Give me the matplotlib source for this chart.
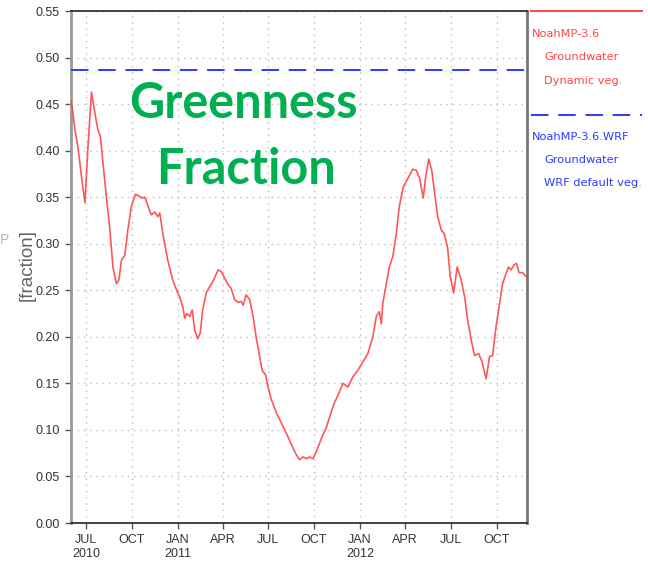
import matplotlib
matplotlib.use("Agg")
import matplotlib.pyplot as plt
import numpy as np
import pandas as pd

# Greenness fraction, NoahMP-3.6 groundwater run with dynamic vegetation
gvf_dates = [
    "2010-06-01", "2010-06-05", "2010-06-09", "2010-06-15", "2010-06-22", "2010-06-29",
    "2010-07-05", "2010-07-12", "2010-07-19", "2010-07-25", "2010-07-30", "2010-08-04",
    "2010-08-11", "2010-08-18", "2010-08-24", "2010-08-31", "2010-09-05", "2010-09-10",
    "2010-09-17", "2010-09-23", "2010-09-30", "2010-10-08", "2010-10-13", "2010-10-21",
    "2010-10-27", "2010-11-02", "2010-11-09", "2010-11-16", "2010-11-22", "2010-11-26",
    "2010-12-02", "2010-12-12", "2010-12-22", "2011-01-01", "2011-01-05", "2011-01-11",
    "2011-01-15", "2011-01-19", "2011-01-25", "2011-01-30", "2011-02-04", "2011-02-10",
    "2011-02-15", "2011-02-20", "2011-02-27", "2011-03-06", "2011-03-12", "2011-03-23",
    "2011-03-29", "2011-04-05", "2011-04-12", "2011-04-18", "2011-04-25", "2011-05-02",
    "2011-05-08", "2011-05-12", "2011-05-18", "2011-05-25", "2011-06-01", "2011-06-07",
    "2011-06-14", "2011-06-19", "2011-06-26", "2011-07-01", "2011-07-08", "2011-07-18",
    "2011-07-28", "2011-08-07", "2011-08-17", "2011-08-27", "2011-09-02", "2011-09-09",
    "2011-09-16", "2011-09-22", "2011-09-29", "2011-10-06", "2011-10-16", "2011-10-26",
    "2011-11-05", "2011-11-11", "2011-11-18", "2011-11-28", "2011-12-08", "2011-12-18",
    "2011-12-28", "2012-01-07", "2012-01-17", "2012-01-27", "2012-02-03", "2012-02-09",
    "2012-02-13", "2012-02-16", "2012-02-23", "2012-02-29", "2012-03-07", "2012-03-14",
    "2012-03-20", "2012-03-28", "2012-04-06", "2012-04-16", "2012-04-23", "2012-04-30",
    "2012-05-07", "2012-05-12", "2012-05-18", "2012-05-24", "2012-05-30", "2012-06-05",
    "2012-06-12", "2012-06-18", "2012-06-25", "2012-06-30", "2012-07-07", "2012-07-14",
    "2012-07-22", "2012-07-29", "2012-08-04", "2012-08-11", "2012-08-18", "2012-08-26",
    "2012-09-02", "2012-09-10", "2012-09-17", "2012-09-23", "2012-09-30", "2012-10-07",
    "2012-10-13", "2012-10-20", "2012-10-25", "2012-10-30", "2012-11-05", "2012-11-10",
    "2012-11-15", "2012-11-22", "2012-11-29",
]
gvf_dynamic = [
    0.454, 0.440, 0.422, 0.404, 0.372, 0.344,
    0.404, 0.463, 0.440, 0.422, 0.415, 0.387,
    0.350, 0.315, 0.275, 0.257, 0.261, 0.282,
    0.288, 0.315, 0.340, 0.353, 0.352, 0.349,
    0.350, 0.341, 0.331, 0.334, 0.329, 0.333,
    0.311, 0.282, 0.261, 0.247, 0.243, 0.232,
    0.220, 0.225, 0.222, 0.229, 0.207, 0.198,
    0.204, 0.229, 0.247, 0.254, 0.259, 0.272,
    0.270, 0.263, 0.256, 0.252, 0.240, 0.237,
    0.238, 0.234, 0.245, 0.240, 0.222, 0.200,
    0.179, 0.164, 0.159, 0.146, 0.132, 0.118,
    0.107, 0.096, 0.084, 0.073, 0.068, 0.071,
    0.069, 0.071, 0.069, 0.077, 0.091, 0.103,
    0.120, 0.129, 0.137, 0.150, 0.146, 0.157,
    0.164, 0.173, 0.182, 0.200, 0.222, 0.227,
    0.214, 0.236, 0.257, 0.275, 0.286, 0.311,
    0.340, 0.361, 0.370, 0.380, 0.379, 0.370,
    0.349, 0.372, 0.391, 0.379, 0.354, 0.329,
    0.315, 0.311, 0.295, 0.265, 0.247, 0.275,
    0.261, 0.243, 0.218, 0.197, 0.180, 0.182,
    0.173, 0.155, 0.179, 0.180, 0.211, 0.236,
    0.257, 0.268, 0.275, 0.272, 0.277, 0.279,
    0.269, 0.269, 0.265,
]

# WRF default vegetation: constant maximum greenness
gvf_wrf_default = 0.487

y_ticks = [0.00, 0.05, 0.10, 0.15, 0.20, 0.25, 0.30, 0.35, 0.40, 0.45, 0.50, 0.55]
x_tick_dates = ["2010-07-01", "2010-10-01", "2011-01-01", "2011-04-01", "2011-07-01",
                "2011-10-01", "2012-01-01", "2012-04-01", "2012-07-01", "2012-10-01"]
x_tick_labels = ["JUL\n2010", "OCT", "JAN\n2011", "APR", "JUL",
                 "OCT", "JAN\n2012", "APR", "JUL", "OCT"]
x_range = ["2010-06-01", "2012-12-01"]

legend_red = ["NoahMP-3.6", "Groundwater", "Dynamic veg."]
legend_blue = ["NoahMP-3.6.WRF", "Groundwater", "WRF default veg."]

RED = "#ff4545"
BLUE = "#2a3cff"
TICKFONT = ["Liberation Sans Narrow", "Liberation Sans"]

W, H = 648, 563
fig = plt.figure(figsize=(W / 100, H / 100), dpi=100)
ax = fig.add_axes([71 / W, 1 - 523 / H, (527 - 71) / W, (523 - 11) / H])

dates = pd.to_datetime(gvf_dates)
ax.plot(dates, gvf_dynamic, color=RED, lw=1.2, alpha=0.9, zorder=3)
ax.axhline(gvf_wrf_default, color=BLUE, lw=1.4, dashes=(9, 5), zorder=3)

ax.set_xlim(pd.to_datetime(x_range[0]), pd.to_datetime(x_range[1]))
ax.set_ylim(0, 0.55)

ax.set_yticks(y_ticks)
ax.set_yticklabels([f"{v:.2f}" for v in y_ticks], fontfamily=TICKFONT, fontsize=9,
                   color="#333333")
ax.set_xticks(pd.to_datetime(x_tick_dates))
ax.set_xticklabels(x_tick_labels, fontfamily=TICKFONT, fontsize=9, color="#333333",
                   linespacing=1.25)
ax.tick_params(axis="both", direction="out", length=4, width=1, color="#555555")
ax.tick_params(axis="y", pad=4)
ax.tick_params(axis="x", pad=4)

ax.grid(True, color="#bdbdbd", lw=1.0, linestyle=(0, (1, 3.5)))
ax.set_axisbelow(True)

ax.spines["left"].set_color("#9a9a9a")
ax.spines["left"].set_linewidth(2)
ax.spines["right"].set_color("#777777")
ax.spines["right"].set_linewidth(2)
ax.spines["top"].set_color("#222222")
ax.spines["top"].set_linestyle((0, (2, 1)))
ax.spines["top"].set_linewidth(1.2)
ax.spines["bottom"].set_color("#222222")
ax.spines["bottom"].set_linestyle((0, (3, 1)))
ax.spines["bottom"].set_linewidth(1.2)

fig.text(27 / W, 1 - 265 / H, "[fraction]", rotation=90, ha="center", va="center",
         fontsize=13.5, color="#666666", fontfamily="Liberation Sans")
fig.text(0 / W, 1 - 240 / H, "P", ha="left", va="center", fontsize=10,
         color="#b8b8b8", fontfamily="Liberation Sans")

# Panel title
fig.text(243 / W, 1 - 104 / H, "Greenness", ha="center", va="center", fontsize=35,
         fontweight="bold", color="#00b050", fontfamily="Lato")
fig.text(246 / W, 1 - 170 / H, "Fraction", ha="center", va="center", fontsize=35,
         fontweight="bold", color="#00b050", fontfamily="Lato")

# Legend drawn beside the axes
fig.add_artist(plt.Line2D([531 / W, 642 / W], [1 - 11 / H, 1 - 11 / H],
                          color=RED, lw=1.4, transform=fig.transFigure))
fig.add_artist(plt.Line2D([531 / W, 642 / W], [1 - 115 / H, 1 - 115 / H],
                          color=BLUE, lw=1.4, dashes=(9, 5), transform=fig.transFigure))
for i, line in enumerate(legend_red):
    fig.text((532 if i == 0 else 544) / W, 1 - (34 + 23.5 * i) / H, line, ha="left",
             va="center", fontsize=8.2, color=RED, fontfamily="DejaVu Sans")
for i, line in enumerate(legend_blue):
    fig.text((532 if i == 0 else 544) / W, 1 - (137 + 23 * i) / H, line, ha="left",
             va="center", fontsize=8.2, color=BLUE, fontfamily="DejaVu Sans")

fig.savefig("out.png", dpi=100, facecolor="white")
